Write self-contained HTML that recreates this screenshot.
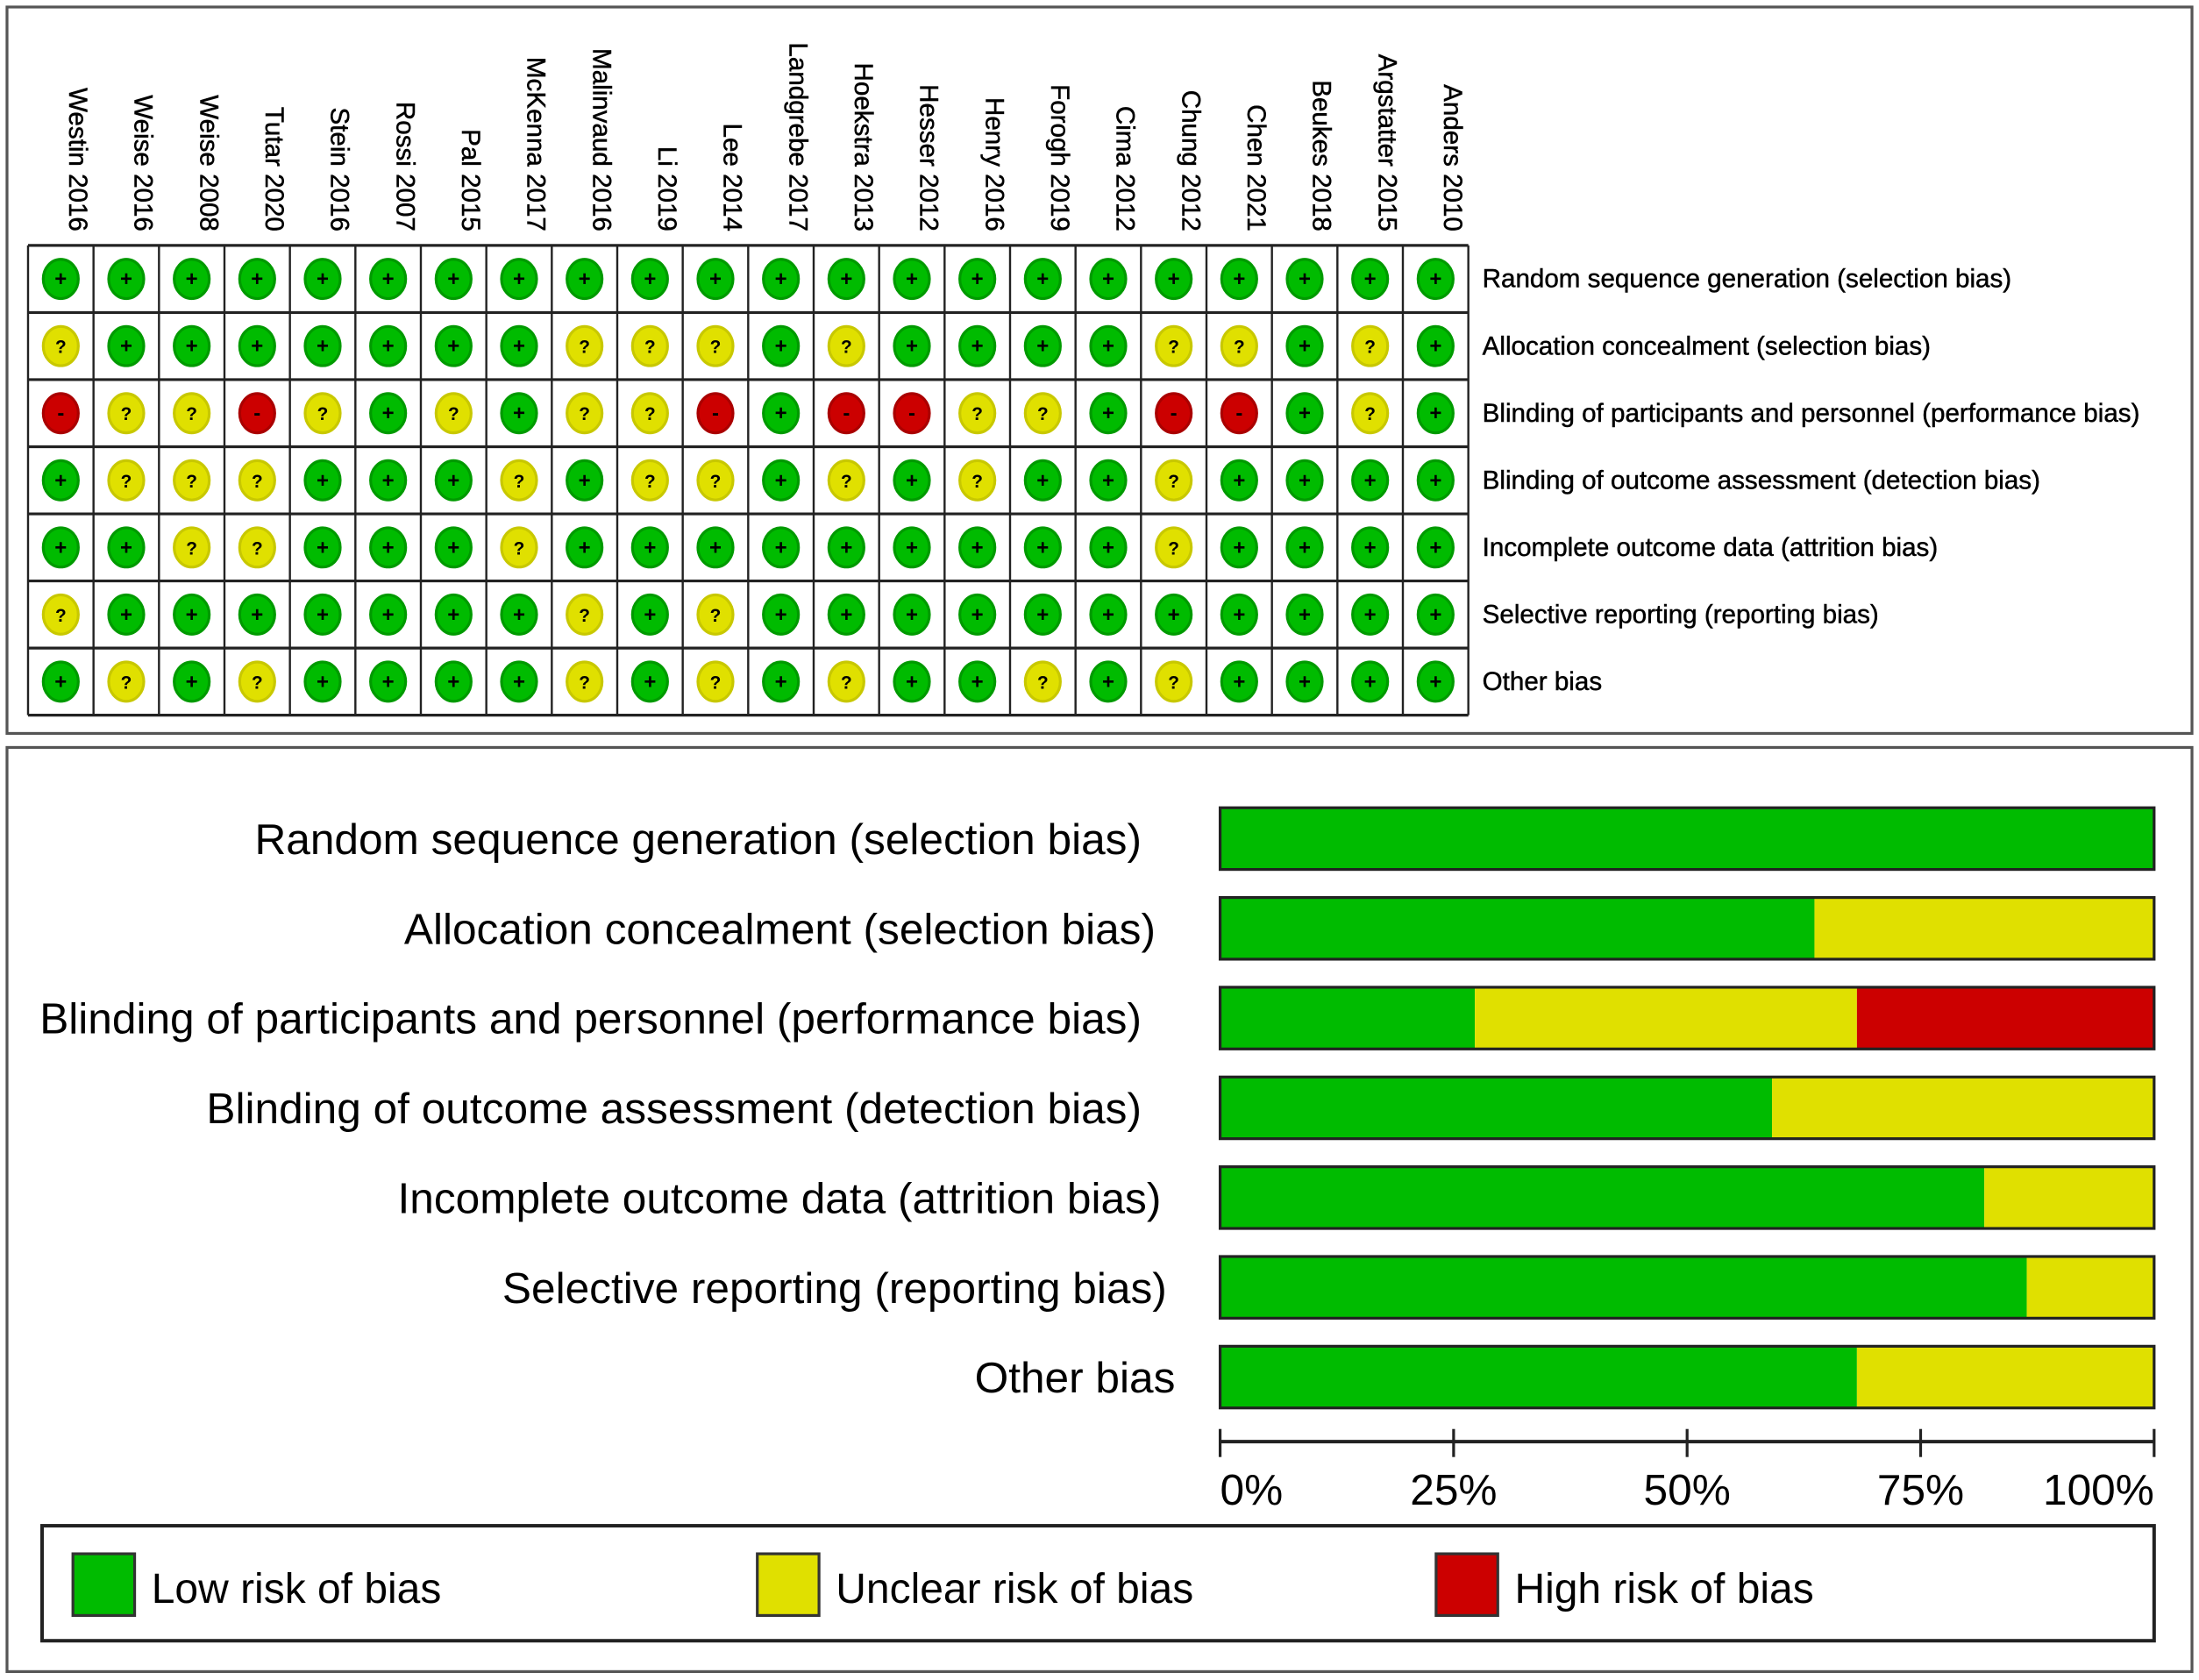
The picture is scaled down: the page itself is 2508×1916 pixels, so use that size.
<!DOCTYPE html>
<html><head><meta charset="utf-8"><style>
html,body{margin:0;padding:0;background:#fff}
svg{display:block}
text{font-family:"Liberation Sans",Arial,sans-serif;fill:#000}
</style></head><body>
<svg id="chart" width="2508" height="1916" viewBox="0 0 1568 1198" preserveAspectRatio="none">
<rect x="5" y="5" width="1558" height="518" fill="#fff" stroke="#555" stroke-width="2"/>
<rect x="5" y="533" width="1558" height="659" fill="#fff" stroke="#555" stroke-width="2"/>
<g id="grid"></g>
<g id="bars"></g>
<g id="axis"></g>
<g id="legend"></g>
</svg>
<script>
const studies = ["Westin 2016","Weise 2016","Weise 2008","Tutar 2020","Stein 2016","Rossi 2007","Pal 2015","McKenna 2017","Malinvaud  2016","Li 2019","Lee 2014","Landgrebe 2017","Hoekstra 2013","Hesser 2012","Henry 2016","Forogh 2019","Cima 2012","Chung 2012","Chen 2021","Beukes 2018","Argstatter 2015","Anders 2010"];
const domains = ["Random sequence generation (selection bias)","Allocation concealment (selection bias)","Blinding of participants and personnel (performance bias)","Blinding of outcome assessment (detection bias)","Incomplete outcome data (attrition bias)","Selective reporting (reporting bias)","Other bias"];
const judgements = [
"LLLLLLLLLLLLLLLLLLLLLL",
"ULLLLLLLUUULULLLLUULUL",
"HUUHULULUUHLHHUULHHLUL",
"LUUULLLULUULULULLULLLL",
"LLUULLLULLLLLLLLLULLLL",
"ULLLLLLLULULLLLLLLLLLL",
"LULULLLLULULULLULULLLL"
];
const tickLabels = ["0%","25%","50%","75%","100%"];
const tickValues = [0,25,50,75,100];
const legendLabels = ["Low risk of bias","Unclear risk of bias","High risk of bias"];

const NS="http://www.w3.org/2000/svg";
function mk(tag, attrs, parent, txt){const e=document.createElementNS(NS,tag);for(const k in attrs)e.setAttribute(k,attrs[k]);if(txt!==undefined)e.textContent=txt;parent.appendChild(e);return e;}
const COL={L:"#00bb00",U:"#e0e000",H:"#cc0000"};
const RING={L:"#009a00",U:"#c8c800",H:"#aa0000"};
const SYM={L:"+",U:"?",H:"-"};

const gx0=20,gy0=175,cw=(1047-20)/studies.length,rh=(510-175)/domains.length;
const grid=document.getElementById('grid');
studies.forEach((s,i)=>{
  const cx=gx0+cw*(i+0.5);
  const t=mk('text',{x:0,y:0,transform:`translate(${cx+6},165) rotate(90)`,'text-anchor':'end','font-size':'18.5','stroke':'#000','stroke-width':'0.3'},grid,s);
  
  
});
domains.forEach((d,r)=>{
  const cy=gy0+rh*(r+0.5);
  const t=mk('text',{x:1057,y:cy+6,'font-size':'18.5','stroke':'#000','stroke-width':'0.3'},grid,d);
  
  
  studies.forEach((s,i)=>{
    const v=judgements[r][i];
    const cx=gx0+cw*(i+0.5);
    const g=mk('g',{},grid);
    
    
    mk('ellipse',{cx:cx,cy:cy,rx:12.5,ry:14,fill:COL[v],stroke:RING[v],'stroke-width':2},g);
    mk('text',{x:cx,y:cy+5,'text-anchor':'middle','font-size':v==='U'?13:15,'font-weight':'bold'},g,SYM[v]);
  });
});
for(let i=0;i<=studies.length;i++){const x=gx0+cw*i;mk('line',{x1:x,y1:gy0,x2:x,y2:510,stroke:'#222','stroke-width':1.5},grid);}
for(let r=0;r<=domains.length;r++){const y=gy0+rh*r;mk('line',{x1:gx0,y1:y,x2:1047,y2:y,stroke:'#222','stroke-width':2},grid);}

const bx0=870,bx1=1536;
function xs(p){return bx0+(bx1-bx0)*p/100;}
const bars=document.getElementById('bars');
const labelRight=[814,824,814,814,828,832,838];
domains.forEach((d,r)=>{
  const cy=598+64*r;
  const t=mk('text',{x:labelRight[r],y:cy+11,'text-anchor':'end','font-size':'31'},bars,d);
  
  
  const row=judgements[r];const n=row.length;
  const cnt={L:0,U:0,H:0};for(const c of row)cnt[c]++;
  let acc=0;
  ["L","U","H"].forEach(k=>{
    const p=cnt[k]/n*100;if(p<=0)return;
    const rc=mk('rect',{x:xs(acc),y:cy-22,width:xs(acc+p)-xs(acc),height:44,fill:COL[k]},bars);
    
    
    acc+=p;
  });
  mk('rect',{x:bx0,y:cy-22,width:bx1-bx0,height:44,fill:'none',stroke:'#222','stroke-width':2},bars);
});

const ax=document.getElementById('axis');
mk('line',{x1:bx0,y1:1028,x2:bx1,y2:1028,stroke:'#222','stroke-width':2.5},ax);
tickValues.forEach((v,i)=>{
  const x=xs(v);
  mk('line',{x1:x,y1:1019,x2:x,y2:1039,stroke:'#222','stroke-width':2},ax);
  const anchor=i===0?'start':(i===tickValues.length-1?'end':'middle');
  const t=mk('text',{x:x,y:1073,'text-anchor':anchor,'font-size':'31'},ax,tickLabels[i]);
  
  
});

const lg=document.getElementById('legend');
mk('rect',{x:30,y:1088,width:1506,height:82,fill:'#fff',stroke:'#222','stroke-width':2.5},lg);
const lx=[52,540,1024];
["L","U","H"].forEach((k,i)=>{
  const e=mk('g',{},lg);
  
  
  mk('rect',{x:lx[i],y:1108,width:44,height:44,fill:COL[k],stroke:'#333','stroke-width':2},e);
  mk('text',{x:lx[i]+56,y:1143,'font-size':'30'},e,legendLabels[i]);
});
</script>
</body></html>
